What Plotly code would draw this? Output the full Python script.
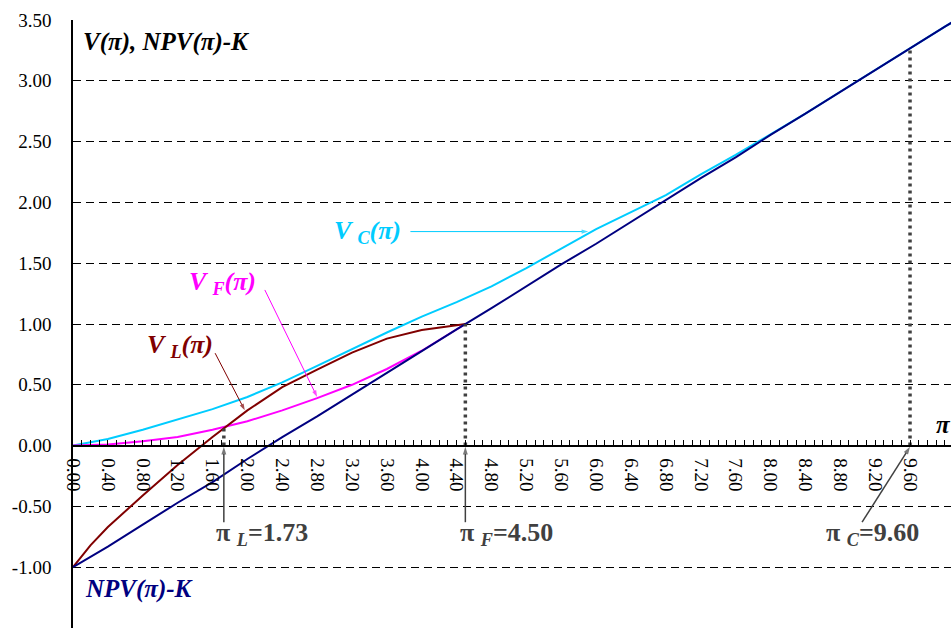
import plotly.graph_objects as go

# Profit-flow grid (pi) and option values
pi_grid = [0.0, 0.4, 0.8, 1.2, 1.6, 2.0, 2.4, 2.8, 3.2, 3.6, 4.0, 4.4, 4.8,
           5.2, 5.6, 6.0, 6.4, 6.8, 7.2, 7.6, 8.0, 8.4, 8.8, 9.2, 9.6, 10.0, 10.4]
npv_minus_k = [-1.00, -0.83, -0.65, -0.47, -0.30, -0.11, 0.07, 0.24, 0.42, 0.60,
               0.78, 0.955, 1.13, 1.31, 1.49, 1.66, 1.84, 2.02, 2.20, 2.37,
               2.555, 2.73, 2.91, 3.09, 3.27, 3.445, 3.62]
v_c = [0.00, 0.055, 0.13, 0.215, 0.30, 0.40, 0.52, 0.655, 0.795, 0.93, 1.06, 1.18,
       1.31, 1.46, 1.62, 1.78, 1.92, 2.06, 2.23, 2.39, 2.56, 2.73, 2.91, 3.09,
       3.27, 3.445, 3.62]

pi_entry = [0.0, 0.2, 0.4, 0.8, 1.2, 1.6, 2.0, 2.4, 2.8, 3.2, 3.6, 4.0, 4.4, 4.5]
v_f = [0.00, 0.003, 0.01, 0.035, 0.07, 0.13, 0.20, 0.29, 0.39, 0.50, 0.63, 0.78, 0.955, 1.00]
v_l = [-1.00, -0.82, -0.67, -0.41, -0.16, 0.07, 0.29, 0.48, 0.625, 0.765, 0.88, 0.95, 0.99, 1.00]

# Trigger thresholds and the value reached at each
thresholds = [1.73, 4.50, 9.60]
threshold_values = [0.155, 1.00, 3.27]
threshold_names = ["L", "F", "C"]

y_ticks = [-1.5, -1.0, -0.5, 0.0, 0.5, 1.0, 1.5, 2.0, 2.5, 3.0, 3.5]
y_tick_labels = ["-1.50", "-1.00", "-0.50", "0.00", "0.50", "1.00", "1.50",
                 "2.00", "2.50", "3.00", "3.50"]

FONT = "Times New Roman, Liberation Serif, serif"
NAVY = "#000080"
MAROON = "#800000"
MAGENTA = "#FF00FF"
SKY = "#00CCFF"
GREY = "#404040"

fig = go.Figure()

fig.add_trace(go.Scatter(x=pi_grid, y=v_c, mode="lines",
                         line=dict(color=SKY, width=2)))
fig.add_trace(go.Scatter(x=pi_entry, y=v_f, mode="lines",
                         line=dict(color=MAGENTA, width=2)))
fig.add_trace(go.Scatter(x=pi_entry, y=v_l, mode="lines",
                         line=dict(color=MAROON, width=2)))
fig.add_trace(go.Scatter(x=pi_grid, y=npv_minus_k, mode="lines",
                         line=dict(color=NAVY, width=2)))

# Dotted drop lines at each threshold
for xv, yv in zip(thresholds, threshold_values):
    fig.add_trace(go.Scatter(x=[xv, xv], y=[0, yv], mode="lines",
                             line=dict(color=GREY, width=3.5, dash="3px,4px")))


def arrow(x0, y0, x1, y1, color, width=1.0, head=7):
    # pointer line from (x0, y0) to (x1, y1) with the head at the end
    fig.add_trace(go.Scatter(
        x=[x0, x1], y=[y0, y1], mode="lines+markers",
        line=dict(color=color, width=width),
        marker=dict(symbol=["circle", "arrow"], size=[0, head], color=color,
                    angleref="previous", line=dict(width=0)),
    ))


annotations = []


def label(x, y, text, color, size=26, xanchor="left"):
    annotations.append(dict(x=x, y=y, xref="x", yref="y", text=text, showarrow=False,
                            xanchor=xanchor, yanchor="middle",
                            font=dict(family=FONT, size=size, color=color)))


label(0.09, 3.32, "<b><i>V(π), NPV(π)-K</i></b>", "black", size=25)
label(0.12, -1.18, "<b><i>NPV(π)-K</i></b>", NAVY, size=25)
label(9.88, 0.17, "<b><i>π</i></b>", "black", size=25)

label(2.97, 1.76, "<b><i>V <sub>C</sub>(π)</i></b>", SKY)
arrow(3.87, 1.76, 5.91, 1.76, SKY)

label(1.31, 1.34, "<b><i>V <sub>F</sub>(π)</i></b>", MAGENTA)
arrow(2.20, 1.28, 2.80, 0.40, MAGENTA)

label(0.82, 0.82, "<b><i>V <sub>L</sub>(π)</i></b>", MAROON)
arrow(1.63, 0.76, 1.97, 0.29, MAROON)

label_x = [1.62, 4.42, 8.61]
tail_x = [thresholds[0], thresholds[1], 9.05]
for xv, lx, tx, nm in zip(thresholds, label_x, tail_x, threshold_names):
    label(lx, -0.73, f"<b>π <sub><i>{nm}</i></sub>=%.2f</b>" % xv, GREY)
    arrow(tx, -0.63, xv, -0.01, GREY, width=1.5, head=8)

fig.update_layout(
    width=951, height=634,
    margin=dict(l=73, r=0, t=20, b=6),
    paper_bgcolor="white", plot_bgcolor="white",
    showlegend=False,
    font=dict(family=FONT, size=19, color="black"),
    annotations=annotations,
    xaxis=dict(
        range=[0, 10.07], anchor="free", position=0.3,
        tick0=0, dtick=0.4, tickformat=".2f", tickangle=90,
        ticks="inside", ticklen=5, tickcolor="black", tickwidth=1,
        minor=dict(dtick=0.1, ticks="inside", ticklen=5, tickcolor="black", tickwidth=1),
        showline=True, linecolor="black", linewidth=1.5,
        showgrid=False, zeroline=False, ticklabelstandoff=8,
        tickfont=dict(family=FONT, size=19, color="black"),
    ),
    yaxis=dict(
        range=[-1.5, 3.5], tickvals=y_ticks, ticktext=y_tick_labels,
        ticks="",
        showline=True, linecolor="black", linewidth=1.5,
        showgrid=True, gridcolor="black", gridwidth=1, griddash="8px,5px",
        zeroline=False, ticklabelstandoff=16,
        tickfont=dict(family=FONT, size=19, color="black"),
    ),
)

fig.write_html("out.html")
